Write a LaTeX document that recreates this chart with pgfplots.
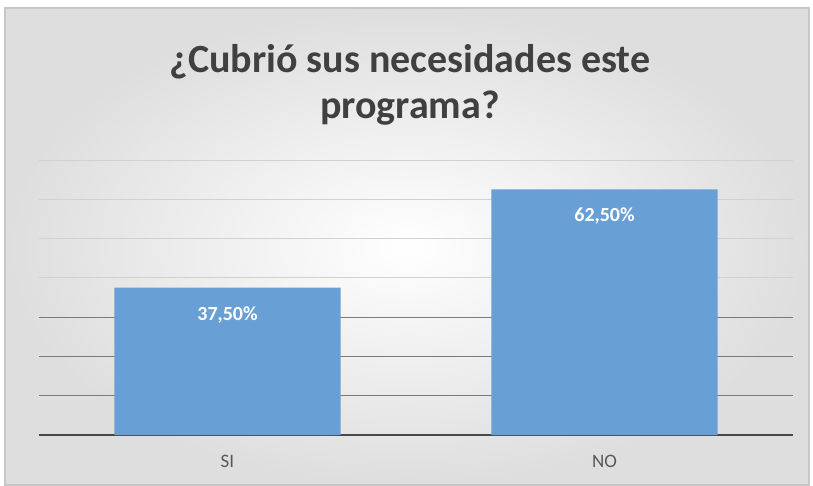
\documentclass[border=0pt]{standalone}
\usepackage{pgfplots}
\pgfplotsset{compat=1.18}
\usepackage{fontspec}
\setmainfont{Carlito}
\definecolor{barblue}{RGB}{104,160,213}
\begin{document}
\begin{tikzpicture}[x=1pt,y=1pt]
\fill[white] (0,0) rectangle (813,485);
\shade[inner color=white, outer color=black!13] (5,0) rectangle (809,477);
\draw[black!22, line width=1.5pt] (5,0) rectangle (809,477);
\node[font=\fontsize{40}{46}\selectfont\bfseries, text=black!75, align=center] at (410,400) {¿Cubrió sus necesidades este\\programa?};
\begin{axis}[
  at={(39pt,50pt)}, anchor=south west, scale only axis,
  width=754pt, height=275pt,
  ymin=0, ymax=70, xmin=-0.5, xmax=1.5,
  ytick={40,50,60,70}, yticklabels={},
  extra y ticks={10,20,30}, extra y tick labels={},
  extra y tick style={grid style={black!52, line width=1pt}},
  ymajorgrids, grid style={black!18, line width=1pt},
  major tick length=0pt,
  axis x line*=bottom, axis y line*=left,
  y axis line style={draw=none},
  x axis line style={black!72, line width=1.6pt, -},
  xtick={0,1}, xticklabels={SI,NO},
  xticklabel style={font=\fontsize{19}{20}\selectfont, text=black!65, yshift=-17pt},
  ybar, bar width=0.6,
  nodes near coords={\pgfmathprintnumber[fixed,fixed zerofill,precision=2,use comma]{\pgfplotspointmeta}\%},
  every node near coord/.append style={anchor=north, yshift=-15pt, text=white, font=\fontsize{20}{21}\selectfont\bfseries},
  /pgf/number format/assume math mode=true,
  clip=false,
]
\addplot[fill=barblue, draw=none] coordinates {(0,37.5) (1,62.5)};
\end{axis}
\end{tikzpicture}
\end{document}
